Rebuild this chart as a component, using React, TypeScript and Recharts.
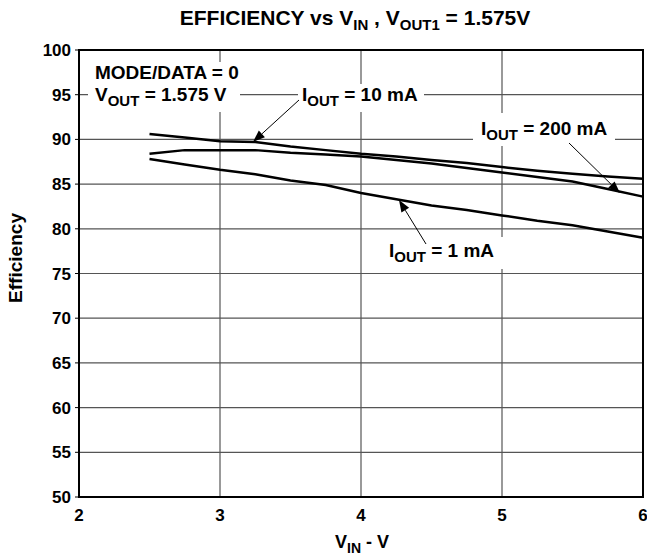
import { LineChart, Line, XAxis, YAxis, CartesianGrid, ReferenceArea } from 'recharts';

// V_IN (V) and efficiency (%)
const vin = [2.5, 2.75, 3, 3.25, 3.5, 3.75, 4, 4.25, 4.5, 4.75, 5, 5.25, 5.5, 5.75, 6];
const eff10mA = [90.6, 90.2, 89.8, 89.7, 89.2, 88.8, 88.4, 88.1, 87.7, 87.35, 86.9, 86.5, 86.15, 85.85, 85.6];
const eff200mA = [88.4, 88.8, 88.8, 88.8, 88.5, 88.3, 88.1, 87.7, 87.3, 86.8, 86.3, 85.8, 85.3, 84.45, 83.6];
const eff1mA = [87.8, 87.2, 86.6, 86.1, 85.4, 84.9, 84.0, 83.3, 82.6, 82.1, 81.5, 80.9, 80.4, 79.7, 79.0];

const xTicks = [2, 3, 4, 5, 6];
const yTicks = [50, 55, 60, 65, 70, 75, 80, 85, 90, 95, 100];

const data = vin.map((v, i) => ({ vin: v, i10: eff10mA[i], i200: eff200mA[i], i1: eff1mA[i] }));

const FONT = '"Liberation Sans", Arial, Helvetica, sans-serif';

function XTick({ x, y, payload }: any) {
  return (
    <text x={x} y={y + 13} fontSize={17} fontWeight={700} fontFamily={FONT} fill="#000" textAnchor="middle">
      {payload.value}
    </text>
  );
}

function YTick({ x, y, payload }: any) {
  return (
    <text x={x} y={y + 6} fontSize={17} fontWeight={700} fontFamily={FONT} fill="#000" textAnchor="end">
      {payload.value}
    </text>
  );
}

function SubText({ x, y, pre, sub, post, size = 19, subSize = 15, anchor = 'start' }: any) {
  return (
    <text x={x} y={y} fontSize={size} fontWeight={700} fontFamily={FONT} fill="#000" textAnchor={anchor}>
      {pre}
      <tspan dy={5} fontSize={subSize}>{sub}</tspan>
      <tspan dy={-5}>{post}</tspan>
    </text>
  );
}

function Arrow({ x1, y1, x2, y2 }: any) {
  const a = Math.atan2(y2 - y1, x2 - x1);
  const len = 12, w = 4.5;
  const bx = x2 - len * Math.cos(a), by = y2 - len * Math.sin(a);
  const p1 = `${bx + w * Math.sin(a)},${by - w * Math.cos(a)}`;
  const p2 = `${bx - w * Math.sin(a)},${by + w * Math.cos(a)}`;
  return (
    <g>
      <line x1={x1} y1={y1} x2={bx} y2={by} stroke="#000" strokeWidth={1} />
      <polygon points={`${x2},${y2} ${p1} ${p2}`} fill="#000" />
    </g>
  );
}

export default function App() {
  return (
    <div style={{ position: 'absolute', left: 0, top: 0, width: 647, height: 558, background: '#fff' }}>
      <LineChart width={647} height={558} data={data} margin={{ top: 50, right: 4, bottom: 0, left: 0 }}>
        <CartesianGrid stroke="#555" strokeWidth={1.2} verticalValues={[3, 4, 5]} horizontalValues={[55, 60, 65, 70, 75, 80, 85, 90, 95]} />
        <XAxis
          type="number"
          dataKey="vin"
          domain={[2, 6]}
          ticks={xTicks}
          height={61}
          axisLine={false}
          tickLine={false}
          tickMargin={5}
          tick={<XTick />}
          interval={0}
        />
        <YAxis
          type="number"
          domain={[50, 100]}
          ticks={yTicks}
          width={79}
          axisLine={false}
          tickSize={4}
          tickMargin={4}
          tickLine={{ stroke: '#000', strokeWidth: 1 }}
          tick={<YTick />}
          interval={0}
        />
        <ReferenceArea x1={2} x2={6} y1={50} y2={100} fill="none" stroke="#000" strokeWidth={2} ifOverflow="visible" />
        <Line type="linear" dataKey="i10" stroke="#000" strokeWidth={2.5} dot={false} isAnimationActive={false} />
        <Line type="linear" dataKey="i200" stroke="#000" strokeWidth={2.5} dot={false} isAnimationActive={false} />
        <Line type="linear" dataKey="i1" stroke="#000" strokeWidth={2.5} dot={false} isAnimationActive={false} />
      </LineChart>
      <svg width={647} height={558} style={{ position: 'absolute', left: 0, top: 0, pointerEvents: 'none' }}>
        {/* title */}
        <text x={355} y={25} fontSize={21} fontWeight={700} fontFamily={FONT} textAnchor="middle">
          EFFICIENCY vs V<tspan dy={5} fontSize={15}>IN</tspan>
          <tspan dy={-5}> , V</tspan>
          <tspan dy={5} fontSize={15}>OUT1</tspan>
          <tspan dy={-5}> = 1.575V</tspan>
        </text>
        {/* axis titles */}
        <text transform="translate(22,258) rotate(-90)" fontSize={18} fontWeight={700} fontFamily={FONT} textAnchor="middle" textLength={90} lengthAdjust="spacingAndGlyphs">
          Efficiency
        </text>
        <SubText x={362} y={548} pre="V" sub="IN" post=" - V" size={18} subSize={14} anchor="middle" />

        {/* annotation boxes */}
        <rect x={88} y={62} width={152} height={50} fill="#fff" />
        <rect x={298} y={84} width={126} height={28} fill="#fff" />
        <rect x={473} y={113} width={142} height={33} fill="#fff" />
        <rect x={383} y={237} width={122} height={32} fill="#fff" />

        <text x={95} y={79} fontSize={19} fontWeight={700} fontFamily={FONT}>MODE/DATA = 0</text>
        <SubText x={95} y={101} pre="V" sub="OUT" post=" = 1.575 V" />
        <SubText x={302} y={101} pre="I" sub="OUT" post=" = 10 mA" />
        <SubText x={481} y={135} pre="I" sub="OUT" post=" = 200 mA" />
        <SubText x={389} y={257} pre="I" sub="OUT" post=" = 1 mA" />

        <Arrow x1={299} y1={100} x2={253} y2={142} />
        <Arrow x1={569} y1={143} x2={620} y2={193} />
        <Arrow x1={426} y1={244} x2={399} y2={200} />
      </svg>
    </div>
  );
}
